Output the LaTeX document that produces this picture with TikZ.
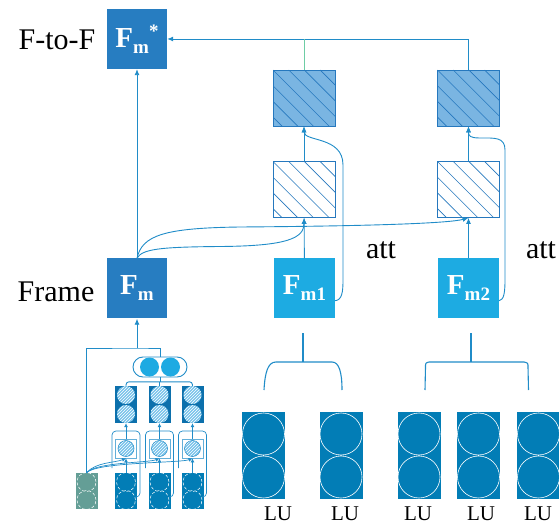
\documentclass[tikz,border=0pt]{standalone}
\usepackage{fontspec}
\setmainfont{Liberation Serif}
\usetikzlibrary{arrows.meta,patterns}
\definecolor{fmblue}{RGB}{39,125,193}
\definecolor{fmlight}{RGB}{29,171,226}
\definecolor{lineblue}{RGB}{32,140,200}
\definecolor{hatchfill}{RGB}{122,181,226}
\definecolor{hatchline}{RGB}{38,120,190}
\definecolor{lublue}{RGB}{2,125,182}
\definecolor{lugreen}{RGB}{100,158,150}
\definecolor{greenline}{RGB}{110,205,165}
\definecolor{midblue}{RGB}{12,112,172}
\definecolor{circlight}{RGB}{120,195,235}
\definecolor{pillblue}{RGB}{30,170,226}
\newcommand\subt[1]{\raisebox{-6pt}{\fontsize{19}{19}\selectfont #1}}
\newcommand\supt[1]{\raisebox{10pt}{\fontsize{19}{19}\selectfont #1}}
\begin{document}
\begin{tikzpicture}[x=1pt,y=-1pt,
 conn/.style={draw=lineblue,line width=0.9pt},
 arr/.style={conn,-{Latex[length=6pt,width=5pt]}},
 bigbox/.style={minimum width=60pt,minimum height=60pt,inner sep=0pt,text=white,font=\bfseries\fontsize{29}{29}\selectfont},
 hatchbox/.style={draw=hatchline,line width=0.7pt,minimum width=62pt,minimum height=56pt,inner sep=0pt,
   path picture={\foreach \k in {-3,...,3}{\draw[hatchline,line width=0.6pt] ([xshift=\k*15.7pt]path picture bounding box.north west) -- ++(64,64);}}},
 lubox/.style={fill=lublue,minimum width=43pt,minimum height=87pt,inner sep=0pt,
   path picture={\draw[white,line width=0.6pt] ([yshift=21.5pt]path picture bounding box.center) circle (21pt) ([yshift=-21.5pt]path picture bounding box.center) circle (21pt);}},
 botbox/.style={fill=#1,minimum width=22pt,minimum height=36pt,inner sep=0pt,
   path picture={\draw[white,line width=0.5pt,densely dashed] ([yshift=9pt]path picture bounding box.center) circle (9.5pt) ([yshift=-9pt]path picture bounding box.center) circle (9.5pt);}},
 midbox/.style={fill=midblue,minimum width=22pt,minimum height=37pt,inner sep=0pt,
   path picture={\fill[circlight] ([yshift=9.5pt]path picture bounding box.center) circle (9pt) ([yshift=-9.5pt]path picture bounding box.center) circle (9pt);
     \fill[pattern=north east lines,pattern color=white] ([yshift=9.5pt]path picture bounding box.center) circle (9pt) ([yshift=-9.5pt]path picture bounding box.center) circle (9pt);}},
 smallbox/.style={draw=lineblue!70,fill=white,line width=0.8pt,minimum width=21pt,minimum height=19pt,inner sep=0pt,
   path picture={\fill[circlight] (path picture bounding box.center) circle (8pt);
     \fill[pattern=north east lines,pattern color=white] (path picture bounding box.center) circle (8pt);
     \draw[lineblue,line width=0.5pt] (path picture bounding box.center) circle (8pt);}},
 pillbox/.style={draw=lineblue,fill=white,line width=0.9pt,rounded corners=10pt,minimum width=54pt,minimum height=20pt,inner sep=0pt,
   path picture={\fill[pillblue] ([xshift=-10.5pt]path picture bounding box.center) circle (9.5pt) ([xshift=10.5pt]path picture bounding box.center) circle (9.5pt);}},
 lbl/.style={font=\fontsize{30}{30}\selectfont,inner sep=0pt},
 lulbl/.style={font=\fontsize{21}{21}\selectfont,inner sep=0pt}
]
\useasboundingbox (0,0) rectangle (559,526);

% labels
\node[lbl] (ftof) at (57,40) {F-to-F};
\node[lbl] (frame) at (56,292) {Frame};
\node[lbl] (att1) at (381,250) {att};
\node[lbl] (att2) at (541,250) {att};

% main boxes
\node[bigbox,fill=fmblue] (fstar) at (137,39) {F\subt{m}\supt{*}};
\node[bigbox,fill=fmblue] (fm) at (137,288.5) {F\subt{m}};
\node[bigbox,fill=fmlight,minimum width=61pt] (fm1) at (304.5,288.5) {F\subt{m1}};
\node[bigbox,fill=fmlight,minimum width=61pt] (fm2) at (468.5,288.5) {F\subt{m2}};

\node[hatchbox,fill=hatchfill] (hu1) at (304,98) {};
\node[hatchbox,fill=hatchfill] (hu2) at (468.5,98) {};
\node[hatchbox,fill=white] (hl1) at (304,189.5) {};
\node[hatchbox,fill=white] (hl2) at (468.5,189.5) {};

% connectors top
\draw[arr] (fm) -- (fstar);
\draw[arr] (fm1) -- (hl1);
\draw[arr] (hl1) -- (hu1);
\draw[arr] (fm2) -- (hl2);
\draw[arr] (hl2) -- (hu2);
\draw[arr] (hu2.north) |- (fstar.east);
\draw[draw=greenline,line width=0.9pt] (hu1.north) -- (hu1.north |- fstar.east);

\draw[arr] (fm.north) .. controls (142,249) and (160,247) .. (220,246.5) .. controls (288,246) and (304,238) .. (hl1.south);
\draw[arr] (fm.north) .. controls (142,235) and (165,228) .. (240,227) .. controls (380,226) and (450,223) .. (hl2.south);

\draw[arr] ([yshift=18pt]fm1.south east) .. controls (342,300) and (343,292) .. (343,280) -- (343,165) .. controls (343,136) and (304,142) .. (hu1.south);
\draw[arr] ([yshift=18pt]fm2.south east) .. controls (504,300) and (505,292) .. (505,280) -- (505,150) .. controls (505,137) and (495,138) .. (480,138) .. controls (470,138) and (468.5,136) .. (hu2.south);

% brackets
\draw[conn,line width=1.1pt] (303,333) -- (303,362);
\draw[conn,line width=1.1pt] (264,390) .. controls (265,372) and (268,362) .. (276,362) -- (332,362) .. controls (339,362) and (342,372) .. (342,390);
\draw[conn,line width=1.1pt] (471,333) -- (471,362);
\draw[conn,line width=1.1pt] (425,390) -- (425.5,367) .. controls (425.5,363) .. (429,362) -- (524,362) .. controls (528,363) .. (528,367) -- (528.5,390);

% LU boxes
\node[lubox] (lu1) at (263.5,455.5) {};
\node[lubox] (lu2) at (341,455.5) {};
\node[lubox] (lu3) at (419,455.5) {};
\node[lubox] (lu4) at (478.5,455.5) {};
\node[lubox] (lu5) at (538.5,455.5) {};
\node[lulbl] (l1) at (278,514) {LU};
\node[lulbl] (l2) at (345,514) {LU};
\node[lulbl] (l3) at (418,514) {LU};
\node[lulbl] (l4) at (481,514) {LU};
\node[lulbl] (l5) at (538,514) {LU};

% bottom-left structure
\node[botbox=lugreen] (g) at (86.5,491) {};
\node[pillbox] (pill) at (160,367) {};
\foreach \i/\cx in {1/126,2/159.5,3/192.5}{
  \node[botbox=lublue] (b\i) at (\cx,491) {};
  \node[smallbox] (s\i) at (\cx,448.5) {};
  \node[midbox] (m\i) at (\cx,404.5) {};
}
\foreach \i/\cx in {1/126,2/159.5,3/192.5}{
  \draw[conn,line width=0.7pt,rounded corners=4pt] (\cx-14,468) -- (\cx-14,431) -- (\cx+14,431) -- (\cx+14,497) -- (\cx+11,497);
  \draw[arr,line width=0.7pt,-{Latex[length=4pt,width=4pt]}] (b\i) -- (s\i);
  \draw[arr,line width=0.7pt,-{Latex[length=4pt,width=4pt]}] (s\i) -- (m\i);
  \draw[arr,line width=0.7pt,-{Latex[length=4pt,width=4pt]}] (g.north) .. controls (96,462) and (\cx-12,463) .. (s\i.south);
}
\coordinate (j) at (137,348);
\draw[conn] (g.north) |- (j) -| (pill.north);
\draw[arr] (j) -- (fm.south);
\draw[conn,rounded corners=3pt] (m1.north) -- ++(0,-4) -| (m3.north);
\draw[conn] (m2.north) -- ++(0,-4);
\draw[conn] (pill.south) -- ++(0,5);
\end{tikzpicture}
\end{document}
